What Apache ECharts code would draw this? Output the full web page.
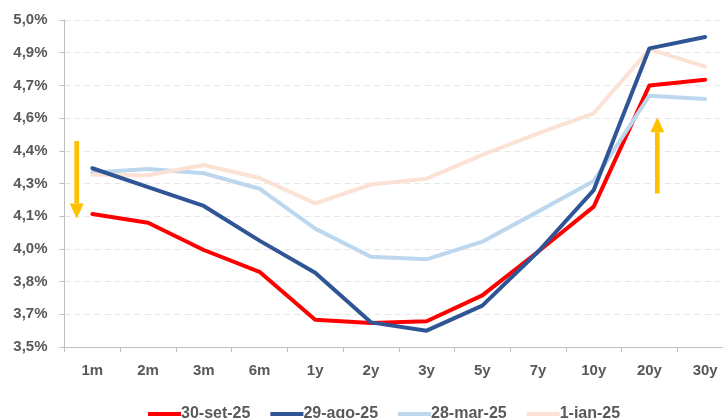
<!DOCTYPE html>
<html>
<head>
<meta charset="utf-8">
<script src="https://cdn.jsdelivr.net/npm/echarts@6/dist/echarts.min.js"></script>
<style>
  html, body { margin: 0; padding: 0; background: #fff; }
  #chart { width: 723px; height: 418px; }
</style>
</head>
<body>
<div id="chart"></div>
<script>
// Yield curve maturities
const maturities = ['1m', '2m', '3m', '6m', '1y', '2y', '3y', '5y', '7y', '10y', '20y', '30y'];

// Yields (%) for each curve date
const set30 = [4.11, 4.07, 3.945, 3.845, 3.625, 3.61, 3.618, 3.737, 3.937, 4.144, 4.700, 4.726];
const ago29 = [4.32, 4.233, 4.147, 3.988, 3.841, 3.613, 3.575, 3.690, 3.937, 4.220, 4.870, 4.922];
const mar28 = [4.30, 4.317, 4.297, 4.226, 4.043, 3.914, 3.902, 3.983, 4.121, 4.261, 4.653, 4.638];
const jan01 = [4.29, 4.288, 4.335, 4.275, 4.159, 4.245, 4.272, 4.381, 4.480, 4.572, 4.866, 4.786];

const seriesNames = ['30-set-25', '29-ago-25', '28-mar-25', '1-jan-25'];
const seriesColors = ['#FF0000', '#2F5597', '#BDD7EE', '#FBE2D5'];
const seriesData = [set30, ago29, mar28, jan01];
const seriesZ = [2, 5, 3, 4];

const labelColor = '#595959';
const fontFamily = '"Liberation Sans", Arial, sans-serif';

function pct(v) {
  const r = Math.round(v * 10 + 1e-6) / 10;
  return r.toFixed(1).replace('.', ',') + '%';
}

const chart = echarts.init(document.getElementById('chart'), null, { renderer: 'canvas' });

// Arrow shape helper (vertical arrow, shaft plus triangular head)
function arrow(x, yTail, yTip, shaftW, headW, headH, color) {
  const dir = yTip > yTail ? 1 : -1;
  const base = yTip - dir * headH;
  return [
    {
      type: 'rect',
      shape: { x: x - shaftW / 2, y: Math.min(yTail, base), width: shaftW, height: Math.abs(base - yTail) },
      style: { fill: color },
      z: 10
    },
    {
      type: 'polygon',
      shape: { points: [[x - headW / 2, base], [x + headW / 2, base], [x, yTip]] },
      style: { fill: color },
      z: 10
    }
  ];
}

const option = {
  animation: false,
  backgroundColor: '#ffffff',
  textStyle: { fontFamily: fontFamily },
  // plot area runs slightly past the right edge of the canvas
  grid: { left: 64.5, width: 668.5, top: 20, bottom: 71, containLabel: false, outerBoundsMode: 'none' },
  legend: {
    data: seriesNames,
    left: 143,
    top: 401,
    itemGap: 20,
    itemWidth: 33,
    itemHeight: 4,
    icon: 'rect',
    textStyle: { color: labelColor, fontSize: 16, fontWeight: 'bold', fontFamily: fontFamily, padding: [0, 0, 0, -5] }
  },
  xAxis: {
    type: 'category',
    data: maturities,
    boundaryGap: true,
    axisLine: { lineStyle: { color: '#BFBFBF', width: 1 } },
    axisTick: { show: true, length: 5, lineStyle: { color: '#BFBFBF' } },
    axisLabel: { color: labelColor, fontSize: 15, fontWeight: 'bold', fontFamily: fontFamily, margin: 16 }
  },
  yAxis: {
    type: 'value',
    min: 3.5,
    max: 5.0,
    interval: 0.15,
    axisLine: { show: true, lineStyle: { color: '#BFBFBF', width: 1 } },
    axisTick: { show: true, length: 5, lineStyle: { color: '#BFBFBF' } },
    splitLine: { show: true, lineStyle: { color: '#E6E6E6', type: [6, 4], width: 1 } },
    axisLabel: { color: labelColor, fontSize: 15, fontWeight: 'bold', fontFamily: fontFamily, margin: 17, formatter: pct }
  },
  series: seriesNames.map((name, i) => ({
    name: name,
    type: 'line',
    data: seriesData[i],
    z: seriesZ[i],
    symbol: 'none',
    smooth: false,
    lineStyle: { color: seriesColors[i], width: 4, cap: 'round', join: 'round' },
    itemStyle: { color: seriesColors[i] }
  })),
  graphic: [
    ...arrow(76.7, 141, 218.5, 4.7, 14, 15, '#FFC000'),
    ...arrow(657.3, 193.5, 117.3, 4.7, 14, 15, '#FFC000')
  ]
};

chart.setOption(option);
</script>
</body>
</html>
